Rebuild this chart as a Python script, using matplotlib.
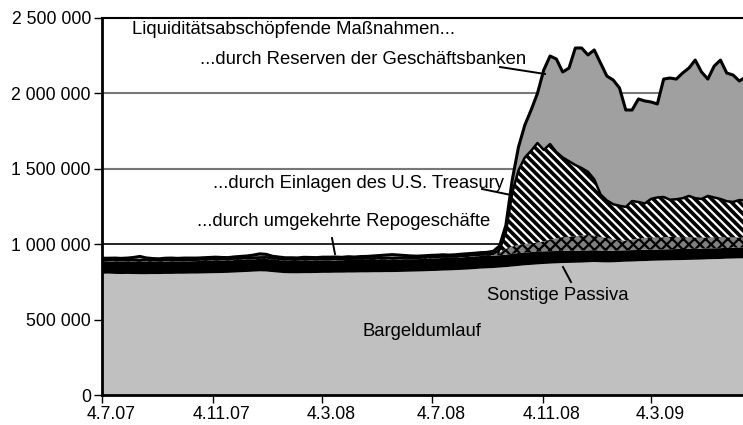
import matplotlib
matplotlib.use("Agg")
import matplotlib.pyplot as plt
from matplotlib.lines import Line2D
from matplotlib.ticker import FuncFormatter
from matplotlib.transforms import ScaledTranslation
import numpy as np
import pandas as pd

# Fed-Bilanz, Passivseite, Wochenwerte in Mrd. USD (Achse in Mio. USD)
wochen = pd.date_range("2007-07-04", periods=103, freq="7D")

bargeld = [
    804, 805, 803, 802, 803, 802, 801, 801, 802, 802,
    803, 803, 804, 804, 805, 805, 806, 807, 808, 809,
    810, 812, 814, 816, 818, 820, 819, 815, 811, 808,
    807, 807, 808, 808, 809, 810, 810, 811, 811, 812,
    812, 813, 813, 814, 814, 815, 815, 816, 817, 818,
    819, 820, 822, 823, 825, 826, 828, 830, 832, 835,
    838, 840, 842, 845, 848, 852, 856, 860, 863, 866,
    869, 871, 873, 875, 876, 877, 878, 880, 882, 880,
    879, 880, 882, 884, 885, 887, 888, 890, 891, 892,
    893, 894, 895, 896, 897, 898, 900, 901, 902, 904,
    905, 906, 907,
]
sonstige = [
    83, 82, 83, 84, 83, 82, 83, 84, 83, 82,
    83, 84, 83, 83, 82, 83, 84, 84, 83, 83,
    82, 83, 84, 83, 82, 83, 84, 83, 84, 83,
    83, 82, 83, 84, 83, 84, 83, 82, 83, 84,
    83, 84, 83, 82, 83, 84, 83, 83, 84, 83,
    82, 83, 84, 83, 84, 83, 82, 83, 84, 83,
    84, 83, 83, 82, 83, 85, 86, 86, 85, 84,
    84, 83, 82, 82, 81, 80, 80, 79, 79, 78,
    78, 77, 77, 76, 76, 75, 75, 75, 74, 74,
    74, 74, 73, 73, 73, 73, 73, 72, 72, 72,
    72, 72, 72,
]
repo = [
    5, 5, 6, 5, 5, 5, 5, 6, 5, 5,
    5, 5, 5, 6, 5, 5, 5, 5, 6, 5,
    5, 5, 5, 5, 6, 5, 5, 5, 5, 5,
    5, 6, 5, 5, 5, 5, 5, 6, 5, 5,
    5, 5, 5, 5, 6, 5, 5, 5, 5, 5,
    5, 6, 5, 5, 5, 5, 5, 5, 6, 5,
    5, 5, 7, 16, 38, 48, 52, 55, 58, 60,
    66, 75, 84, 90, 92, 95, 100, 102, 96, 88,
    84, 75, 65, 62, 70, 76, 78, 80, 78, 80,
    82, 80, 78, 76, 74, 72, 70, 72, 74, 70,
    68, 66, 66,
]
treasury = [
    4, 5, 4, 4, 4, 5, 4, 4, 4, 4,
    5, 4, 4, 4, 4, 4, 5, 4, 4, 4,
    4, 5, 4, 4, 4, 4, 5, 4, 4, 4,
    4, 4, 5, 4, 4, 4, 4, 5, 4, 4,
    4, 4, 4, 5, 4, 4, 4, 4, 5, 4,
    4, 4, 4, 4, 5, 4, 4, 4, 4, 5,
    4, 4, 5, 20, 110, 355, 496, 574, 614, 661,
    606, 635, 572, 528, 501, 473, 447, 419, 373, 284,
    249, 233, 231, 225, 255, 242, 229, 255, 267, 267,
    246, 250, 259, 275, 261, 257, 277, 265, 252, 239,
    235, 249, 245,
]
reserven = [
    11, 10, 12, 11, 13, 18, 26, 14, 11, 10,
    11, 12, 10, 11, 12, 11, 10, 12, 13, 11,
    10, 11, 12, 14, 18, 24, 20, 13, 11, 10,
    11, 10, 12, 11, 10, 11, 12, 11, 10, 12,
    11, 12, 14, 16, 18, 20, 24, 20, 14, 12,
    11, 10, 11, 12, 11, 10, 11, 12, 11, 12,
    13, 14, 16, 25, 47, 85, 155, 215, 270, 329,
    530, 584, 617, 567, 618, 776, 796, 775, 858, 871,
    825, 824, 781, 643, 604, 683, 680, 643, 620, 782,
    807, 797, 830, 848, 916, 842, 775, 871, 921, 850,
    842, 789, 819,
]

x_ticks = ["2007-07-04", "2007-11-04", "2008-03-04", "2008-07-04", "2008-11-04", "2009-03-04"]
x_labels = ["4.7.07", "4.11.07", "4.3.08", "4.7.08", "4.11.08", "4.3.09"]
y_ticks = [0, 500, 1000, 1500, 2000, 2500]

plt.rcParams['font.family'] = ['Liberation Sans', 'DejaVu Sans']
plt.rcParams['font.size'] = 13.3
plt.rcParams['hatch.linewidth'] = 1.6

W, H = 743, 425
fig = plt.figure(figsize=(W / 100, H / 100), dpi=100)
ax = fig.add_axes([102 / W, 30 / H, 641 / W, 377 / H])

# Schichten stapeln
schichten = [
    (bargeld, '#c0c0c0', 'none', None),
    (sonstige, 'black', 'none', None),
    (repo, '#7f7f7f', 'black', 'xxx'),
    (treasury, 'black', 'white', '\\\\\\\\'),
    (reserven, '#a0a0a0', 'none', None),
]
unten = np.zeros(len(wochen))
grenzen = []
for werte, farbe, hfarbe, muster in schichten:
    oben = unten + np.array(werte, dtype=float)
    ax.fill_between(wochen, unten, oben, facecolor=farbe, edgecolor=hfarbe,
                    hatch=muster, linewidth=0, zorder=2)
    grenzen.append(oben)
    unten = oben
# Kante der Treasury-Schicht und Gesamtsumme
ax.plot(wochen, grenzen[3], color='black', lw=1.8, zorder=3)
ax.plot(wochen, grenzen[4], color='black', lw=2.2, zorder=3)

# Gitterlinien
ax.axhline(1000, color='black', lw=1.2, zorder=1)
ax.axhline(1500, color='#777777', lw=1.5, zorder=1)
ax.axhline(2000, color='#777777', lw=1.5, zorder=1)

ax.set_ylim(0, 2500)
ax.set_xlim(pd.Timestamp("2007-07-04"), pd.Timestamp("2009-06-14"))
ax.set_yticks(y_ticks)
ax.yaxis.set_major_formatter(FuncFormatter(lambda v, p: f"{int(v * 1000):,}".replace(",", " ")))
ax.set_xticks(pd.to_datetime(x_ticks))
ax.set_xticklabels(x_labels)
ax.tick_params(length=6, width=1, color='black', pad=2, labelsize=12.7)
# Datumsbeschriftungen sitzen leicht rechts der Striche
for lab in ax.get_xticklabels():
    lab.set_transform(lab.get_transform() + ScaledTranslation(0.09, 0, fig.dpi_scale_trans))

for s in ['left', 'bottom']:
    ax.spines[s].set_linewidth(2)
ax.spines['top'].set_linewidth(1.5)
ax.spines['right'].set_visible(False)
for s in ax.spines.values():
    s.set_zorder(4)

def fx(px):
    return px / W

def fy(py):
    return 1 - py / H

texte = [
    ("Liquiditätsabschöpfende Maßnahmen...", 132, 30),
    ("...durch Reserven der Geschäftsbanken", 200, 60),
    ("...durch Einlagen des U.S. Treasury", 213, 183),
    ("...durch umgekehrte Repogeschäfte", 197, 222),
    ("Sonstige Passiva", 487, 296),
    ("Bargeldumlauf", 362, 331),
]
for t, px, py in texte:
    fig.text(fx(px), fy(py), t, ha='left', va='center', zorder=5)

linien = [
    ((500, 67), (545, 74)),
    ((482, 189), (511, 195)),
    ((332, 238), (335, 254)),
    ((563, 267), (571, 282)),
]
for (x1, y1), (x2, y2) in linien:
    fig.add_artist(Line2D([fx(x1), fx(x2)], [fy(y1), fy(y2)], color='black',
                          lw=1.4, transform=fig.transFigure, zorder=6))

fig.savefig('out.png', dpi=100)
